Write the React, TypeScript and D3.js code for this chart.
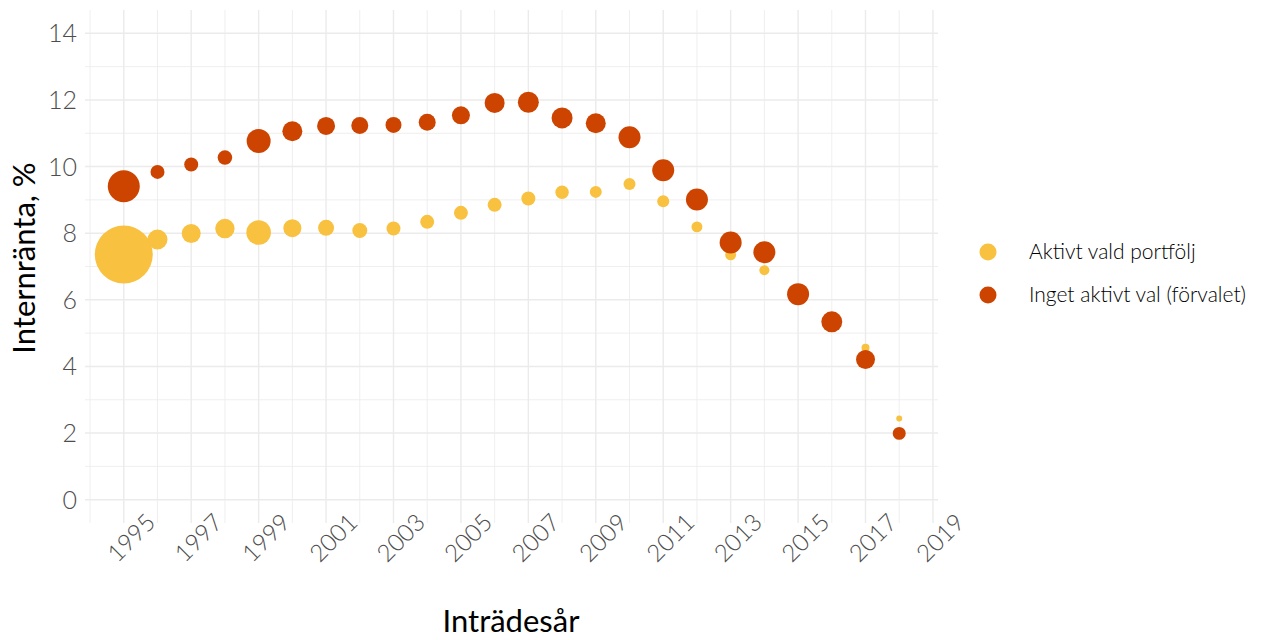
import * as d3 from "d3";

// Inträdesår
const years = d3.range(1995, 2019);

// Internränta, % per inträdesår
const aktivtVald = [
  7.36, 7.81, 7.99, 8.14, 8.02, 8.15, 8.16, 8.08, 8.14, 8.34, 8.61, 8.85,
  9.04, 9.23, 9.24, 9.48, 8.96, 8.19, 7.35, 6.89, 6.2, 5.35, 4.56, 2.44,
];
const ingetVal = [
  9.41, 9.84, 10.06, 10.27, 10.77, 11.06, 11.22, 11.23, 11.25, 11.33, 11.54,
  11.91, 11.93, 11.46, 11.3, 10.88, 9.89, 9.01, 7.72, 7.43, 6.17, 5.34, 4.21,
  1.99,
];

// Antal sparare (punktstorlek)
const antalAktivt = [
  841, 100, 90, 94, 151, 81, 64, 56, 49, 49, 49, 49, 49, 45, 36, 36, 36, 30,
  30, 25, 20, 16, 16, 9,
];
const antalInget = [
  256, 49, 49, 53, 144, 100, 81, 72, 64, 72, 81, 100, 110, 110, 100, 121, 121,
  121, 121, 121, 121, 110, 90, 42,
];

const seriesNames = ["Aktivt vald portfölj", "Inget aktivt val (förvalet)"];
const seriesColors = ["#F9C140", "#CC4400"];

const xMajor = d3.range(1995, 2020, 2);
const xMinor = d3.range(1994, 2019, 2);
const yMajor = d3.range(0, 15, 2);
const yMinor = d3.range(1, 14, 2);

const W = 1280;
const H = 640;
const panel = { left: 85, right: 938, top: 10, bottom: 523 };
const font = "Lato, 'Open Sans', sans-serif";

export default function App() {
  const x = d3
    .scaleLinear()
    .domain([1993.85, 2019.15])
    .range([panel.left, panel.right]);
  const y = d3
    .scaleLinear()
    .domain([-0.7, 14.7])
    .range([panel.bottom, panel.top]);
  const r = d3
    .scaleSqrt()
    .domain([0, d3.max(antalAktivt.concat(antalInget))!])
    .range([0, 29]);

  const series = [
    { values: aktivtVald, sizes: antalAktivt },
    { values: ingetVal, sizes: antalInget },
  ];

  return (
    <svg
      width={W}
      height={H}
      style={{ position: "absolute", left: 0, top: 0, background: "#fff" }}
      fontFamily={font}
      fontWeight={300}
    >
      {/* grid */}
      <g stroke="#ebebeb">
        {yMinor.map((v) => (
          <line key={"ym" + v} x1={panel.left} x2={panel.right} y1={y(v)} y2={y(v)} strokeWidth={0.8} />
        ))}
        {xMinor.map((v) => (
          <line key={"xm" + v} x1={x(v)} x2={x(v)} y1={panel.top} y2={panel.bottom} strokeWidth={0.8} />
        ))}
        {yMajor.map((v) => (
          <line key={"yM" + v} x1={panel.left} x2={panel.right} y1={y(v)} y2={y(v)} strokeWidth={1.4} />
        ))}
        {xMajor.map((v) => (
          <line key={"xM" + v} x1={x(v)} x2={x(v)} y1={panel.top} y2={panel.bottom} strokeWidth={1.4} />
        ))}
      </g>

      {/* y tick labels */}
      <g fill="#4d4d4d" fontSize={25} textAnchor="end">
        {yMajor.map((v) => (
          <text key={v} x={77} y={y(v)} dy="0.36em">
            {v}
          </text>
        ))}
      </g>

      {/* x tick labels */}
      <g fill="#4d4d4d" fontSize={24} textAnchor="end">
        {xMajor.map((v) => (
          <text key={v} transform={`translate(${x(v) + 33},524) rotate(-45)`}>
            {v}
          </text>
        ))}
      </g>

      {/* points */}
      {series.map((s, si) => (
        <g key={si} fill={seriesColors[si]}>
          {years.map((yr, i) => (
            <circle key={yr} cx={x(yr)} cy={y(s.values[i])} r={r(s.sizes[i])} />
          ))}
        </g>
      ))}

      {/* axis titles */}
      <g fontWeight={400} fill="#000" fontSize={31} textAnchor="middle">
        <text x={511} y={632}>
          Inträdesår
        </text>
        <text transform={`translate(35,258) rotate(-90)`}>Internränta, %</text>
      </g>

      {/* legend */}
      {seriesNames.map((name, i) => (
        <g key={name} transform={`translate(0,${252 + i * 43})`}>
          <circle cx={988} cy={0} r={8.5} fill={seriesColors[i]} />
          <text x={1029} y={0} dy="0.33em" fontSize={21} fill="#000">
            {name}
          </text>
        </g>
      ))}
    </svg>
  );
}
